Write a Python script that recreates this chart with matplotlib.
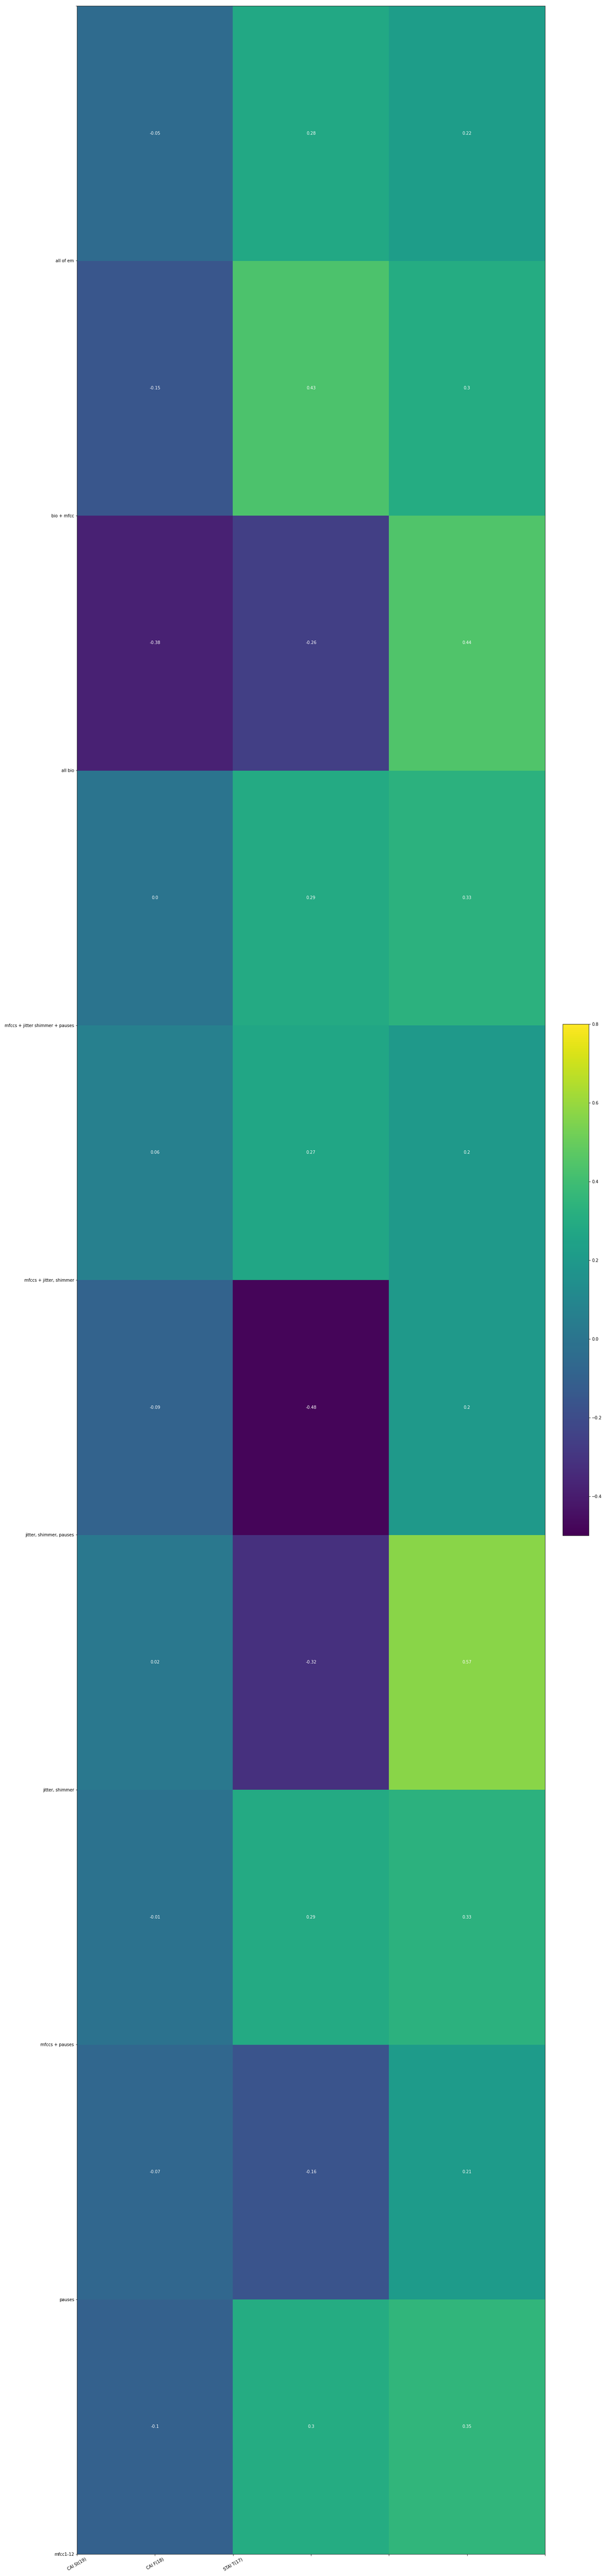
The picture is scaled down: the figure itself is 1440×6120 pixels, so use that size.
import matplotlib
matplotlib.use("Agg")
import matplotlib.pyplot as plt
import numpy as np

# rows listed bottom -> top (row 0 at the bottom, as pcolor draws it)
row_labels = ["mfcc1-12", "pauses", "mfccs + pauses", "jitter, shimmer",
              "jitter, shimmer, pauses", "mfccs + jitter, shimmer",
              "mfccs + jitter shimmer + pauses", "all bio", "bio + mfcc", "all of em"]
col_labels = ["CAI St(19)", "CAI F(18)", "STAI T(17)"]

cai_st = [-0.1, -0.07, -0.01, 0.02, -0.09, 0.06, 0.0, -0.38, -0.15, -0.05]
cai_f = [0.3, -0.16, 0.29, -0.32, -0.48, 0.27, 0.29, -0.26, 0.43, 0.28]
stai_t = [0.35, 0.21, 0.33, 0.57, 0.2, 0.2, 0.33, 0.44, 0.3, 0.22]

data = np.array([cai_st, cai_f, stai_t]).T

fig = plt.figure(figsize=(20, 85), dpi=72)
ax = fig.add_axes([183/1440, 1-6068/6120, (1295-183)/1440, (6068-14)/6120])
mesh = ax.pcolor(data, cmap="viridis", vmin=-0.5, vmax=0.8)

for i in range(data.shape[0]):
    for j in range(data.shape[1]):
        ax.text(j + 0.5, i + 0.5, str(round(data[i, j], 2)),
                ha="center", va="center", color="w", fontsize=10)

yt = np.arange(0, 11, 1)
ax.set_yticks(yt)
ax.set_yticklabels(row_labels + [""] * (len(yt) - len(row_labels)))
xt = np.arange(0, 3.5, 0.5)
ax.set_xticks(xt)
ax.set_xticklabels(col_labels + [""] * (len(xt) - len(col_labels)), rotation=30)
ax.set_xlim(0, 3)
ax.set_ylim(0, 10)

cax = fig.add_axes([1337/1440, 1-3648/6120, 62/1440, 1215/6120])
fig.colorbar(mesh, cax=cax)

fig.savefig("out.png", dpi=72)
